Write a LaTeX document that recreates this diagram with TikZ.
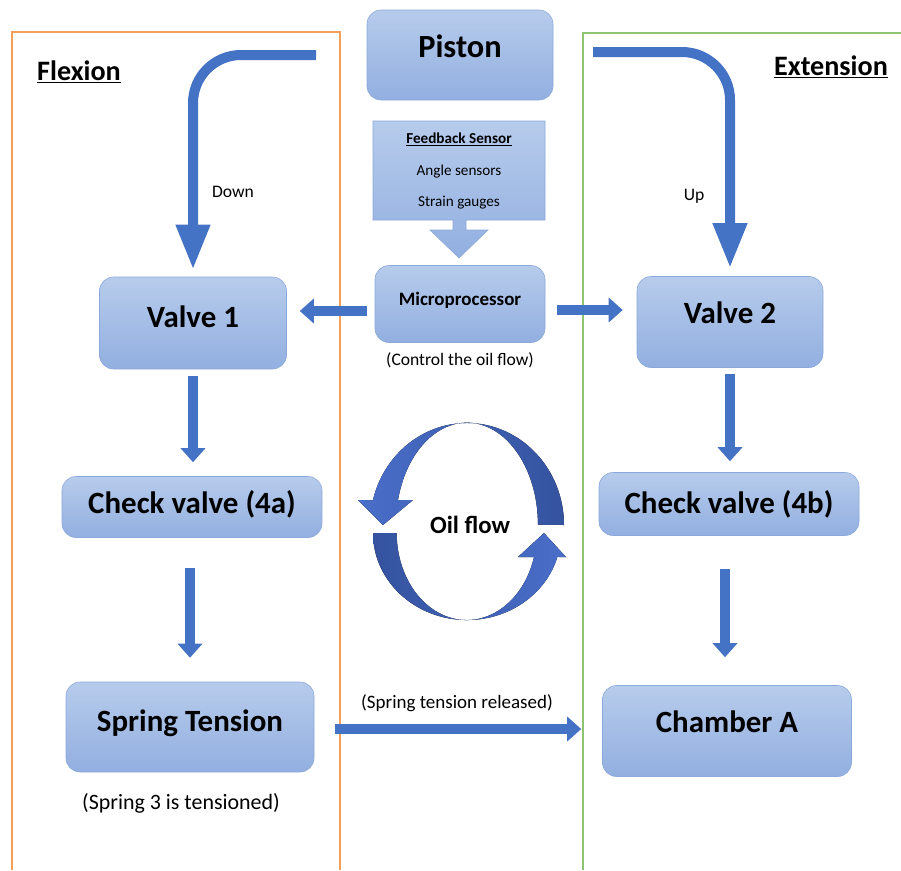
\documentclass[tikz,border=0pt]{standalone}
\usepackage{fontspec}
\setmainfont{Carlito}
\usetikzlibrary{arrows.meta}

\definecolor{arrowblue}{HTML}{4472C4}
\definecolor{oillight}{HTML}{4A6FCA}
\definecolor{oildark}{HTML}{34529E}
\definecolor{boxtop}{HTML}{B7CCEC}
\definecolor{boxbot}{HTML}{92AFE0}
\definecolor{boxline}{HTML}{8AA8DA}
\definecolor{flexline}{HTML}{F5A05A}
\definecolor{extline}{HTML}{8CC572}

\tikzset{
	box/.style={rounded corners=0.35cm, draw=boxline, top color=boxtop, bottom color=boxbot, inner sep=0pt,
		font=\bfseries\fontsize{22}{26}\selectfont, text height=14.2pt, text depth=#1},
	box/.default=7pt,
	note/.style={font=\fontsize{12.5}{15}\selectfont},
	flow/.style={draw=arrowblue, line width=0.25cm, -{Triangle[width=0.6cm,length=0.35cm]}},
	stroke/.style={draw=arrowblue, line width=0.25cm, rounded corners=1.2cm, -{Triangle[width=0.8cm,length=1.125cm]}}
}

\begin{document}
\begin{tikzpicture}[x=0.025cm,y=-0.025cm]
	\def\px{0.025cm}
	\useasboundingbox (0,0) rectangle (901,870);

	% the two sides
	\draw[flexline,line width=1.1pt] (12,870) -- (12,32) -- (340,32) -- (340,870);
	\draw[extline,line width=1.1pt] (583,870) -- (583,33) -- (901,33);
	\node[font=\bfseries\fontsize{20}{24}\selectfont] (flexion) at (79,72) {\underline{Flexion}};
	\node[font=\bfseries\fontsize{20}{24}\selectfont] (extension) at (831,67) {\underline{Extension}};

	% middle column
	\node[box=10pt,minimum width=186*\px,minimum height=90*\px,font=\bfseries\fontsize{23}{27}\selectfont] (piston) at (460,55) {Piston};
	\draw[boxline,top color=boxtop,bottom color=boxbot] (373,121) -- (545,121) -- (545,220) -- (466,220) -- (466,230) -- (488,230)
		-- (459,258) -- (430,230) -- (453,230) -- (453,220) -- (373,220) -- cycle;
	\node[align=center,font=\fontsize{10.8}{22.5}\selectfont] (sensor) at (459,171) {\textbf{\underline{Feedback Sensor}}\\Angle sensors\\Strain gauges};
	\node[box,minimum width=170*\px,minimum height=77*\px,font=\bfseries\fontsize{13.5}{16}\selectfont,text height=8.7pt] (micro) at (460,304) {Microprocessor};
	\node[note] (control) at (460,360) {(Control the oil flow)};

	% left column
	\node[box=7.8pt,minimum width=187*\px,minimum height=92*\px] (valve1) at (193,323) {Valve 1};
	\node[box=4.3pt,minimum width=260*\px,minimum height=61*\px] (check4a) at (192,507) {Check valve (4a)};
	\node[box=8.5pt,minimum width=248*\px,minimum height=90*\px] (spring) at (190,727) {Spring Tension};
	\node[note,font=\fontsize{15.6}{18}\selectfont] (tensioned) at (181,803) {(Spring 3 is tensioned)};

	% right column
	\node[box=11.4pt,minimum width=186*\px,minimum height=91*\px] (valve2) at (730,322) {Valve 2};
	\node[box=1.4pt,minimum width=260*\px,minimum height=63*\px] (check4b) at (729,504) {Check valve (4b)};
	\node[box=11.4pt,minimum width=249*\px,minimum height=91*\px] (chamber) at (727,731) {Chamber A};

	% piston strokes
	\coordinate (downstart) at (316,55);
	\coordinate (upstart) at (593,52);
	\draw[stroke,shorten >=7*\px] (downstart) -| (valve1.north);
	\draw[stroke,shorten >=8*\px] (upstart) -| (valve2.north);
	\node[note] (down) at (233,192) {Down};
	\node[note] (up) at (694,196) {Up};

	% connectors
	\draw[flow,shorten <=8*\px,shorten >=13*\px] (micro.west |- 0,311) -- (valve1.east |- 0,311);
	\draw[flow,shorten <=12*\px,shorten >=14*\px] (micro.east |- 0,310) -- (valve2.west |- 0,310);
	\draw[flow,shorten <=7*\px,shorten >=14*\px] (valve1.south) -- (check4a.north -| valve1.south);
	\draw[flow,shorten <=6*\px,shorten >=11*\px] (valve2.south) -- (check4b.north -| valve2.south);
	\draw[flow,shorten <=30*\px,shorten >=24*\px] (check4a.south -| 190,0) -- (spring.north);
	\draw[flow,shorten <=33*\px,shorten >=28*\px] (check4b.south -| 725,0) -- (chamber.north -| 725,0);
	\draw[flow,shorten <=21*\px,shorten >=21*\px] (spring.east |- 0,729) -- (chamber.west |- 0,729);
	\node[note,font=\fontsize{13.5}{16}\selectfont] (released) at (457,703) {(Spring tension released)};

	% oil flow loop
	\fill[left color=oillight,right color=oildark] (564,525) arc[start angle=0,end angle=166,x radius=2.425cm,y radius=2.55cm]
		-- (358,500) -- (383,525) -- (413,500) -- (398,500)
		arc[start angle=166,end angle=0,x radius=1.775cm,y radius=2.55cm] -- cycle;
	\fill[left color=oildark,right color=oillight] (373,533) arc[start angle=180,end angle=344,x radius=2.35cm,y radius=2.175cm]
		-- (566,557) -- (544,533) -- (518,557) -- (534,557)
		arc[start angle=344,end angle=180,x radius=1.75cm,y radius=2.175cm] -- cycle;
	\node[font=\bfseries\fontsize{17.6}{20}\selectfont] (oilflow) at (470,525) {Oil flow};
\end{tikzpicture}
\end{document}
